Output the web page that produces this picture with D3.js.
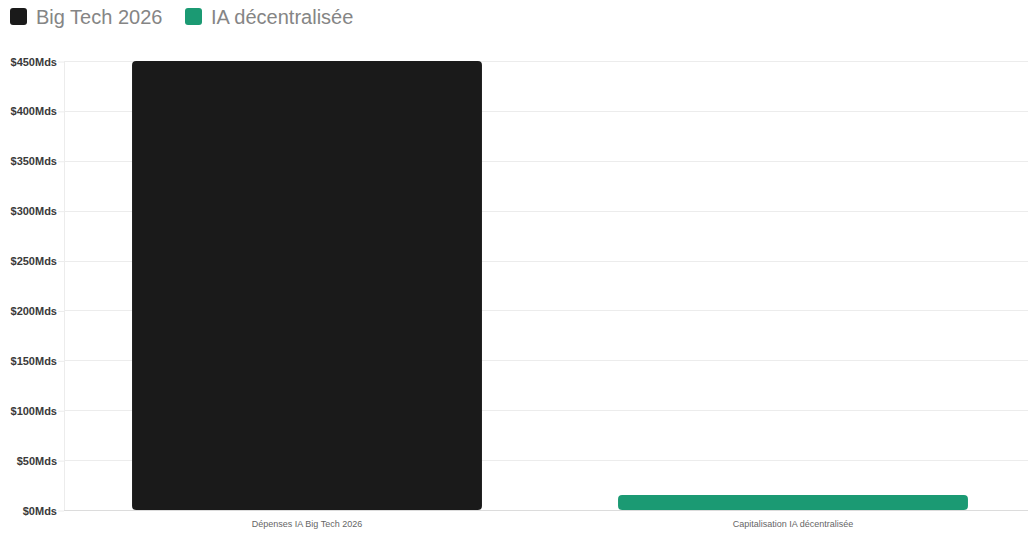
<!DOCTYPE html>
<html>
<head>
<meta charset="utf-8">
<script src="https://cdn.jsdelivr.net/npm/d3@7"></script>
<style>
  body { margin: 0; background: #fff; font-family: "Helvetica Neue", "Liberation Sans", Arial, sans-serif; }
</style>
</head>
<body>
<svg id="canvas" width="1029" height="539"></svg>
<script>
var categories = ["Dépenses IA Big Tech 2026", "Capitalisation IA décentralisée"];
var values = [450, 15];
var seriesNames = ["Big Tech 2026", "IA décentralisée"];
var colors = ["#1a1a1a", "#1b9a73"];
var yTicks = [0, 50, 100, 150, 200, 250, 300, 350, 400, 450];

(function() {
    "use strict";
    var svg = d3.select("#canvas");
    var plotLeft = 64, plotRight = 1028, plotTop = 61, plotBottom = 510;

    // band range runs a bit past the grid's right edge, as in the original
    var x = d3.scaleBand().domain(categories).range([plotLeft, 1036])
        .paddingInner(0.28).paddingOuter(0.14);
    var y = d3.scaleLinear().domain([0, 450]).range([plotBottom, plotTop]);

    // grid
    svg.append("g").selectAll("line").data(yTicks).enter().append("line")
        .attr("x1", plotLeft).attr("x2", plotRight)
        .attr("y1", function(d) { return Math.round(y(d)) + 0.5; })
        .attr("y2", function(d) { return Math.round(y(d)) + 0.5; })
        .attr("stroke", function(d) { return d === 0 ? "#dcdcdc" : "#ececec"; })
        .attr("stroke-width", 1);

    svg.append("line")
        .attr("x1", plotLeft + 0.5).attr("x2", plotLeft + 0.5)
        .attr("y1", plotTop).attr("y2", plotBottom)
        .attr("stroke", "#ececec");

    // y axis
    var yAxis = d3.axisLeft(y).tickValues(yTicks)
        .tickSize(6).tickPadding(1)
        .tickFormat(function(d) { return "$" + d + "Mds"; });
    var gy = svg.append("g").attr("transform", "translate(" + plotLeft + ",0.5)").call(yAxis);
    gy.select(".domain").remove();
    gy.selectAll(".tick line").attr("stroke", "#ececec");
    gy.selectAll(".tick text")
        .attr("fill", "#3a3a3a")
        .attr("font-size", "11px")
        .attr("font-weight", "bold")
        .attr("font-family", "\"Helvetica Neue\", \"Liberation Sans\", Arial, sans-serif");

    // bars
    svg.append("g").selectAll("path").data(categories).enter().append("path")
        .attr("d", function(d, i) {
            var x0 = x(d), w = x.bandwidth(), y0 = y(values[i]), h = plotBottom - y0, r = 4;
            r = Math.min(r, h / 2);
            return "M" + x0 + "," + (y0 + r) +
                "Q" + x0 + "," + y0 + " " + (x0 + r) + "," + y0 +
                "H" + (x0 + w - r) +
                "Q" + (x0 + w) + "," + y0 + " " + (x0 + w) + "," + (y0 + r) +
                "V" + (plotBottom - r) +
                "Q" + (x0 + w) + "," + plotBottom + " " + (x0 + w - r) + "," + plotBottom +
                "H" + (x0 + r) +
                "Q" + x0 + "," + plotBottom + " " + x0 + "," + (plotBottom - r) + "Z";
        })
        .attr("fill", function(d, i) { return colors[i]; });

    // x labels
    svg.append("g").selectAll("text").data(categories).enter().append("text")
        .attr("x", function(d) { return x(d) + x.bandwidth() / 2; })
        .attr("y", 527)
        .attr("text-anchor", "middle")
        .attr("font-size", "9px")
        .attr("fill", "#666")
        .text(function(d) { return d; });

    // legend
    var legendX = [10, 185];
    var legend = svg.append("g").selectAll("g").data(seriesNames).enter().append("g")
        .attr("transform", function(d, i) { return "translate(" + legendX[i] + ",8)"; });
    legend.append("rect")
        .attr("width", 17).attr("height", 17).attr("rx", 3)
        .attr("fill", function(d, i) { return colors[i]; });
    legend.append("text")
        .attr("x", 26).attr("y", 16)
        .attr("font-size", "20px")
        .attr("fill", "#858585")
        .text(function(d) { return d; });
})();
</script>
</body>
</html>
